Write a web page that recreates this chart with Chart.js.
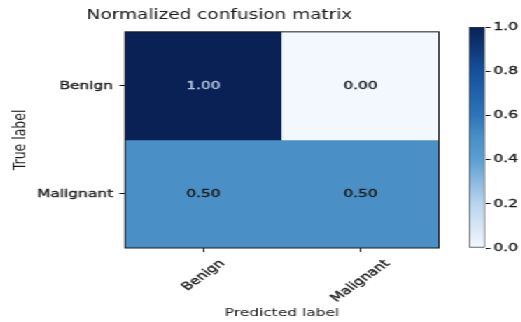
<!DOCTYPE html>
<html>
<head>
<meta charset="utf-8">
<script src="https://cdn.jsdelivr.net/npm/chart.js@4.4.1/dist/chart.umd.min.js"></script>
<style>
  html, body { margin: 0; padding: 0; background: #fff; }
  /* the reference figure was stretched sideways, so draw narrow and scale x */
  #stage { position: relative; width: 372px; height: 322px; transform: scaleX(1.4); transform-origin: 0 0; }
  #matrixBox { position: absolute; left: 0; top: 0; width: 372px; height: 322px; }
  #barBox { position: absolute; left: 330px; top: 0; width: 42px; height: 322px; }
</style>
</head>
<body>
<div id="stage">
  <div id="matrixBox"><canvas id="matrix"></canvas></div>
  <div id="barBox"><canvas id="colorbar"></canvas></div>
</div>
<script>
// data
const predictedLabels = ['Benign', 'Malignant'];
const trueLabels = ['Benign', 'Malignant'];
const rowBenign = [1.00, 0.00];
const rowMalignant = [0.50, 0.50];
const matrixRows = [rowBenign, rowMalignant];
const colorbarRange = [0, 1];
const colorbarStep = 0.2;

const FONT = '"DejaVu Sans", "Liberation Sans", sans-serif';
const INK = '#1a1a1a';

// Blues-like colormap, tuned a bit to the saturated reference image
const blues = [
  [0.0, [243, 248, 254]],
  [0.2, [186, 212, 238]],
  [0.4, [92, 159, 209]],
  [0.5, [74, 144, 198]],
  [0.6, [47, 116, 184]],
  [0.8, [20, 81, 155]],
  [1.0, [10, 33, 86]]
];

function bluesColor(v) {
  for (let i = 1; i < blues.length; i++) {
    const [p1, c1] = blues[i];
    const [p0, c0] = blues[i - 1];
    if (v <= p1) {
      const t = (v - p0) / (p1 - p0);
      const c = c0.map((x, k) => Math.round(x + (c1[k] - x) * t));
      return `rgb(${c[0]},${c[1]},${c[2]})`;
    }
  }
  const c = blues[blues.length - 1][1];
  return `rgb(${c[0]},${c[1]},${c[2]})`;
}

const maxValue = Math.max(...matrixRows.flat());

const cellText = {
  id: 'cellText',
  afterDatasetsDraw(chart) {
    const { ctx, chartArea, scales } = chart;
    ctx.save();
    ctx.font = '11px ' + FONT;
    ctx.textAlign = 'center';
    ctx.textBaseline = 'middle';
    ctx.lineWidth = 0.35;
    matrixRows.forEach((row, r) => {
      row.forEach((v, c) => {
        const col = v > maxValue / 2 ? '#b4c4e0' : INK;
        const x = scales.x.getPixelForValue(c);
        const y = scales.y.getPixelForValue(r);
        ctx.fillStyle = col;
        ctx.strokeStyle = col;
        ctx.fillText(v.toFixed(2), x, y);
        ctx.strokeText(v.toFixed(2), x, y);
      });
    });
    // frame round the axes
    ctx.strokeStyle = INK;
    ctx.lineWidth = 1;
    ctx.strokeRect(chartArea.left, chartArea.top, chartArea.right - chartArea.left, chartArea.bottom - chartArea.top);
    ctx.restore();
  },
  // x tick labels: rotated 45 degrees and centred under the tick (matplotlib style)
  afterDraw(chart) {
    const { ctx, chartArea, scales } = chart;
    const xs = scales.x;
    ctx.save();
    ctx.font = '11px ' + FONT;
    ctx.fillStyle = INK;
    ctx.strokeStyle = INK;
    ctx.lineWidth = 0.35;
    ctx.textAlign = 'center';
    ctx.textBaseline = 'middle';
    predictedLabels.forEach((label, i) => {
      const w = ctx.measureText(label).width;
      const boxH = (w + 11) * Math.SQRT1_2;
      const cx = xs.getPixelForTick(i);
      const cy = chartArea.bottom + 10 + boxH / 2;
      ctx.save();
      ctx.translate(cx, cy);
      ctx.rotate(-Math.PI / 4);
      ctx.fillText(label, 0, 0);
      ctx.strokeText(label, 0, 0);
      ctx.restore();
    });
    ctx.restore();
  }
};

new Chart(document.getElementById('matrix'), {
  type: 'bar',
  data: {
    labels: predictedLabels,
    datasets: matrixRows.map((row, r) => ({
      label: trueLabels[r],
      data: row.map(() => [r - 0.5, r + 0.5]),
      backgroundColor: row.map(v => bluesColor(v)),
      borderWidth: 0,
      barPercentage: 1,
      categoryPercentage: 1,
      grouped: false
    }))
  },
  options: {
    responsive: true,
    maintainAspectRatio: false,
    animation: false,
    devicePixelRatio: 1,
    layout: { padding: { left: 0, right: 58.5, top: 0, bottom: 0 } },
    plugins: {
      legend: { display: false },
      tooltip: { enabled: false },
      title: {
        display: true,
        text: 'Normalized confusion matrix',
        color: INK,
        font: { family: FONT, size: 13.2, weight: 'normal' },
        padding: { top: 8, bottom: 8 }
      }
    },
    scales: {
      x: {
        type: 'category',
        offset: true,
        grid: { offset: false, drawOnChartArea: false, drawTicks: true, tickLength: 4, color: INK },
        border: { display: false },
        ticks: { display: false, autoSkip: false },
        title: {
          display: true,
          text: 'Predicted label',
          color: INK,
          font: { family: FONT, size: 11 },
          padding: { top: 0, bottom: 2 }
        },
        afterFit: scale => { scale.height = 74; }
      },
      y: {
        type: 'linear',
        reverse: true,
        min: -0.5,
        max: 1.5,
        afterBuildTicks: scale => { scale.ticks = trueLabels.map((_, i) => ({ value: i })); },
        grid: { drawOnChartArea: false, drawTicks: true, tickLength: 4, color: INK },
        border: { display: false },
        ticks: {
          color: INK,
          font: { family: FONT, size: 11 },
          padding: 4.5,
          textStrokeColor: INK,
          textStrokeWidth: 0.35,
          callback: v => trueLabels[v]
        },
        title: {
          display: true,
          text: 'True label',
          color: INK,
          font: { family: FONT, size: 12.5 },
          padding: { top: 7, bottom: 0 }
        },
        afterFit: scale => { scale.width = 89.3; }
      }
    }
  },
  plugins: [cellText]
});

// colorbar drawn as a single floating bar on its own value axis
new Chart(document.getElementById('colorbar'), {
  type: 'bar',
  data: {
    labels: [''],
    datasets: [{
      data: [colorbarRange],
      backgroundColor: context => {
        const { chart } = context;
        const area = chart.chartArea;
        if (!area) return bluesColor(0.5);
        const g = chart.ctx.createLinearGradient(0, area.bottom, 0, area.top);
        blues.forEach(([p]) => g.addColorStop(p, bluesColor(p)));
        return g;
      },
      borderColor: '#333',
      borderWidth: 1,
      borderSkipped: false,
      barPercentage: 1,
      categoryPercentage: 1
    }]
  },
  options: {
    responsive: true,
    maintainAspectRatio: false,
    animation: false,
    devicePixelRatio: 1,
    layout: { padding: { left: 5, right: 0, top: 27, bottom: 74 } },
    plugins: { legend: { display: false }, tooltip: { enabled: false } },
    scales: {
      x: { display: false },
      y: {
        position: 'right',
        min: colorbarRange[0],
        max: colorbarRange[1],
        grid: { drawOnChartArea: false, drawTicks: true, tickLength: 4, color: INK },
        border: { display: false },
        ticks: {
          stepSize: colorbarStep,
          color: INK,
          font: { family: FONT, size: 11 },
          padding: 2,
          textStrokeColor: INK,
          textStrokeWidth: 0.35,
          callback: v => v.toFixed(1)
        },
        afterFit: scale => { scale.width = 25.5; }
      }
    }
  }
});
</script>
</body>
</html>
